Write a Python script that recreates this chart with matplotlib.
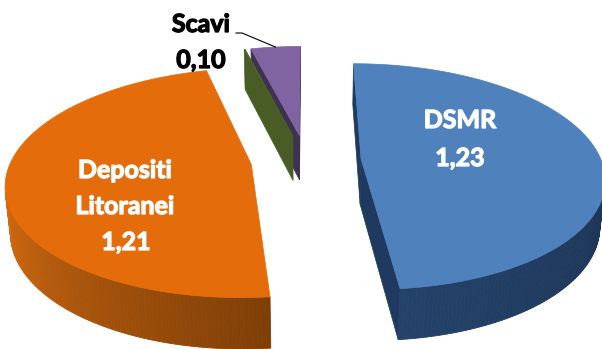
import numpy as np
import matplotlib.pyplot as plt
import matplotlib.patheffects as pe
from matplotlib.patches import Polygon
from matplotlib.collections import PolyCollection

# dati (sequenza in senso orario a partire dalle ore 12)
names = ["DSMR", "Depositi Litoranei", "Altro", "Scavi"]
values = [1.23, 1.21, 0.002, 0.10]
value_labels = ["1,23", "1,21", "", "0,10"]

top_colors = ["#4F81BD", "#E46C0A", "#4F6228", "#8064A2"]
side_start = ["#1D3556", "#7E3F07", "#3E4D20", "#3F3151"]
side_end = ["#24426A", "#D36A10", "#4F6228", "#3F3151"]
face_colors = ["#1F3A5E", "#A5520A", "#4A5C26", "#3F3151"]

# vista 3D in prospettiva
phi = np.radians(27.4)
dist = 5.6
focal = 1344.0
thick = 0.217
explode = 0.23
cx, cy = 306.0, 160.0
cam = np.array([0.0, -dist * np.cos(phi), dist * np.sin(phi)])


def project(X, Y, Z):
    d = dist + Y * np.cos(phi) - Z * np.sin(phi)
    return cx + X * focal / d, cy - (Y * np.sin(phi) + Z * np.cos(phi)) * focal / d


def mix(c1, c2, t):
    a = np.array(plt.matplotlib.colors.to_rgb(c1))
    b = np.array(plt.matplotlib.colors.to_rgb(c2))
    return tuple(a + (b - a) * t)


fig = plt.figure(figsize=(6.02, 3.49), dpi=100)
ax = fig.add_axes([0, 0, 1, 1])
ax.set_xlim(0, 602)
ax.set_ylim(349, 0)
ax.axis("off")

total = sum(values)
wedges = []
start = 90.0
for i, v in enumerate(values):
    sweep = 360.0 * v / total
    a1, a2 = start, start - sweep
    mid = np.radians((a1 + a2) / 2)
    ox, oy = explode * np.cos(mid), explode * np.sin(mid)
    wedges.append((i, np.radians(a1), np.radians(a2), ox, oy))
    start = a2

# dal più lontano al più vicino
order = sorted(wedges, key=lambda w: -w[4])
z = 1
for i, a1, a2, ox, oy in order:
    apex = np.array([ox, oy, 0.0])
    # facce radiali
    for ang, nang in ((a1, a1 + np.pi / 2), (a2, a2 - np.pi / 2)):
        n = np.array([np.cos(nang), np.sin(nang), 0.0])
        if np.dot(n, cam - apex) <= 0:
            continue
        rx, ry = ox + np.cos(ang), oy + np.sin(ang)
        pts = [project(ox, oy, 0), project(rx, ry, 0),
               project(rx, ry, -thick), project(ox, oy, -thick)]
        ax.add_patch(Polygon(pts, closed=True, facecolor=face_colors[i],
                             edgecolor=face_colors[i], lw=0.5, zorder=z))
    # lato esterno
    th = np.linspace(a1, a2, 200)
    quads = []
    for t0, t1 in zip(th[:-1], th[1:]):
        tm = (t0 + t1) / 2
        p = np.array([ox + np.cos(tm), oy + np.sin(tm), 0.0])
        n = np.array([np.cos(tm), np.sin(tm), 0.0])
        if np.dot(n, cam - p) <= 0:
            continue
        quads.append([project(ox + np.cos(t0), oy + np.sin(t0), 0),
                      project(ox + np.cos(t1), oy + np.sin(t1), 0),
                      project(ox + np.cos(t1), oy + np.sin(t1), -thick),
                      project(ox + np.cos(t0), oy + np.sin(t0), -thick)])
    if quads:
        cols = [mix(side_start[i], side_end[i], k / max(len(quads) - 1, 1))
                for k in range(len(quads))]
        ax.add_collection(PolyCollection(quads, facecolors=cols, edgecolors=cols,
                                         linewidths=0.6, zorder=z))
    # faccia superiore
    arc = [project(ox + np.cos(t), oy + np.sin(t), 0) for t in th]
    ax.add_patch(Polygon([project(ox, oy, 0)] + arc, closed=True,
                         facecolor=top_colors[i], edgecolor=top_colors[i],
                         lw=0.5, zorder=z + 1))
    z += 2

font = dict(family=["Lato", "DejaVu Sans"], weight="bold", fontsize=18)
white_fx = [pe.withStroke(linewidth=0.9, foreground="white")]
black_fx = [pe.withStroke(linewidth=0.9, foreground="black")]

# etichette interne
inner = [(460, 128, "DSMR"), (460, 166, value_labels[0]),
         (125, 178, "Depositi"), (125, 214, "Litoranei"), (126, 250, value_labels[1])]
for x, y, s in inner:
    ax.text(x, y, s, color="white", ha="center", va="baseline", zorder=20,
            path_effects=white_fx, **font)

# etichetta esterna con linea guida
ax.text(201, 32, names[3], color="black", ha="center", va="baseline", zorder=20,
        path_effects=black_fx, **font)
ax.text(201, 68, value_labels[3], color="black", ha="center", va="baseline", zorder=20,
        path_effects=black_fx, **font)
i, a1, a2, ox, oy = wedges[3]
tm = (a1 + a2) / 2
ex, ey = project(ox + np.cos(tm), oy + np.sin(tm), 0)
ax.plot([236, 242, ex], [33, 33, ey], color="black", lw=0.8, zorder=20)

fig.savefig("out.png", dpi=100)
